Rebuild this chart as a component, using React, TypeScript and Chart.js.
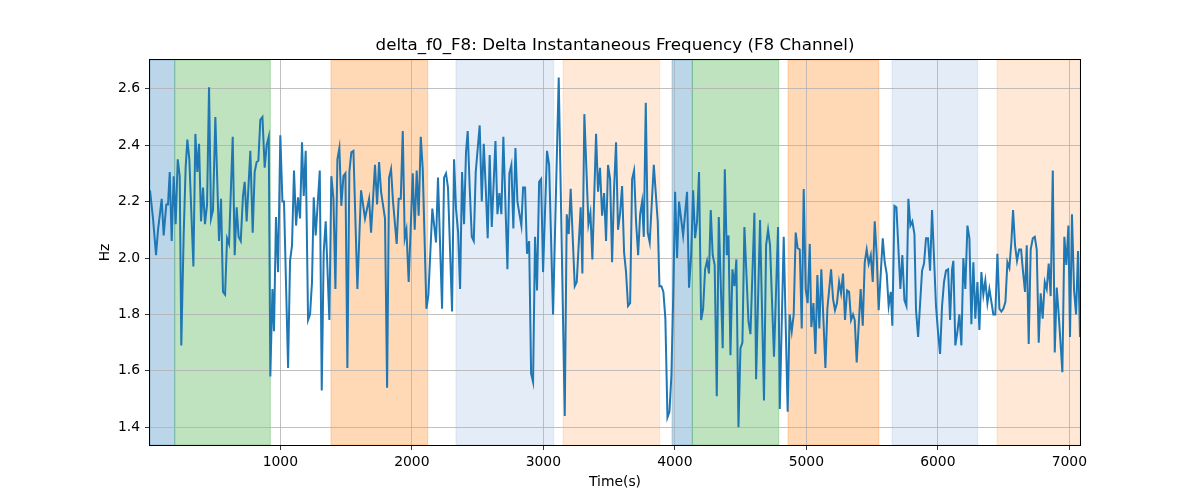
import React, { useEffect, useRef } from "react";
import { Chart, registerables } from "chart.js";

Chart.register(...registerables);

const TITLE = "delta_f0_F8: Delta Instantaneous Frequency (F8 Channel)";
const X_LABEL = "Time(s)";
const Y_LABEL = "Hz";

const X_MIN = 9;
const X_MAX = 7081;
const Y_MIN = 1.337;
const Y_MAX = 2.702;

const X_TICKS = [1000, 2000, 3000, 4000, 5000, 6000, 7000];
const Y_TICKS = [1.4, 1.6, 1.8, 2.0, 2.2, 2.4, 2.6];

const TIME = [
  9, 32, 55, 70, 98, 113, 133, 146, 159, 174, 189, 204, 220, 235, 247, 265, 280, 293, 308, 339,
  354, 369, 382, 397, 412, 427, 443, 458, 473, 488, 506, 534, 549, 564, 580, 595, 610, 638, 653, 668,
  683, 699, 716, 729, 744, 772, 790, 805, 820, 833, 848, 864, 881, 896, 912, 924, 940, 952, 967, 983,
  1000, 1016, 1028, 1059, 1074, 1089, 1104, 1120, 1135,
  1150, 1165, 1178, 1193, 1211, 1226, 1241, 1254, 1269, 1300, 1315, 1330, 1345, 1373, 1388, 1404, 1419, 1434, 1449, 1464,
  1480, 1495, 1510, 1525, 1540, 1556, 1586, 1614, 1644, 1675, 1690, 1720, 1736, 1751, 1766, 1796, 1812, 1827, 1842, 1857,
  1885, 1900, 1916, 1931, 1946, 1959, 1976, 2007, 2022, 2037, 2052, 2068, 2083, 2111, 2126, 2156, 2184, 2199, 2230, 2245,
  2260, 2275, 2306,
  2321, 2336, 2352, 2367, 2382, 2397, 2412, 2425, 2440, 2456, 2471, 2486, 2516, 2532, 2547, 2562, 2577, 2592, 2608, 2636,
  2651, 2666, 2681, 2696, 2727, 2742, 2757, 2772, 2788, 2803, 2833, 2846, 2861, 2876, 2892, 2907, 2922, 2937, 2952, 2968,
  2983, 2998, 3028, 3044, 3074, 3117, 3163, 3178, 3193, 3208, 3239, 3254, 3284, 3297, 3312, 3343, 3358, 3373, 3401, 3416,
  3431, 3447,
  3462, 3477, 3492, 3508, 3523, 3538, 3553, 3568, 3584, 3599, 3614, 3629, 3644, 3660, 3675, 3690, 3705, 3721, 3736, 3751,
  3764, 3779, 3794, 3809, 3840, 3870, 3883, 3898, 3913, 3928, 3944, 3959, 3974, 3989, 4002, 4017, 4032, 4063, 4093, 4108,
  4124, 4139, 4154, 4169, 4184, 4200, 4215, 4230, 4245, 4260, 4273, 4288, 4303, 4319, 4334, 4364, 4380, 4395, 4408, 4423,
  4438, 4453, 4468, 4484, 4499, 4514, 4529, 4560, 4575, 4605,
  4618, 4648, 4678, 4694, 4709, 4724, 4754, 4785, 4798, 4828, 4858, 4873, 4889, 4904, 4919, 4934, 4950, 4965, 4980, 4995,
  5010, 5026, 5038, 5054, 5069, 5084, 5099, 5114, 5145, 5160, 5188, 5203, 5218, 5233, 5249, 5264, 5279, 5294, 5310, 5325,
  5340, 5355, 5368, 5383, 5413, 5429, 5444, 5459, 5474, 5490, 5505, 5520, 5535, 5550, 5581, 5596, 5611, 5626, 5642, 5654,
  5670, 5685, 5715, 5730, 5746, 5761, 5776, 5791, 5806, 5822, 5834,
  5850, 5880, 5895, 5910, 5925, 5941, 5956, 5986, 6001, 6017, 6032, 6047, 6062, 6078, 6093, 6108, 6118, 6133, 6149, 6164,
  6179, 6194, 6209, 6225, 6240, 6255, 6270, 6285, 6301, 6316, 6331, 6346, 6361, 6377, 6392, 6407, 6422, 6437, 6453, 6468,
  6483, 6498, 6514, 6529, 6544, 6559, 6572, 6587, 6602, 6618, 6633, 6648, 6663, 6676, 6691, 6706, 6722, 6737, 6752, 6767,
  6782, 6797, 6813, 6828, 6843, 6858, 6874, 6889, 6904, 6919, 6947, 6962, 6977, 6993, 7005, 7020, 7036, 7051, 7066, 7081,
];

const HZ = [
  2.24, 2.14, 2.01, 2.1, 2.21, 2.08, 2.19, 2.19, 2.305, 2.06, 2.29, 2.12, 2.35, 2.29, 1.69, 2.08, 2.32, 2.42, 2.35, 1.97,
  2.44, 2.305, 2.405, 2.13, 2.25, 2.12, 2.19, 2.605, 2.14, 2.17, 2.5, 2.06, 2.21, 1.88, 1.87, 2.07, 2.05, 2.43, 2.01, 2.18,
  2.075, 2.06, 2.22, 2.27, 2.13, 2.38, 2.09, 2.305, 2.34, 2.345, 2.49, 2.5, 2.32, 2.4, 2.43, 1.58, 1.89, 1.74, 2.145, 1.95,
  2.435, 2.2, 2.2, 1.61, 1.99, 2.045, 2.31, 2.115, 2.215,
  2.14, 2.41, 2.22, 2.38, 1.78, 1.8, 1.915, 2.215, 2.08, 2.31, 1.53, 2.02, 2.13, 1.78, 2.29, 2.21, 1.89, 2.35, 2.39, 2.185,
  2.29, 2.3, 1.61, 2.305, 2.375, 2.38, 1.89, 2.24, 2.14, 2.21, 2.09, 2.33, 2.19, 2.34, 2.235, 2.14, 1.54, 2.285, 2.315, 2.2,
  2.05, 2.21, 2.21, 2.45, 2.07, 2.1, 1.915, 2.3, 2.1, 2.31, 2.15, 2.43, 2.315, 1.82, 1.87, 2.175, 2.055, 2.285, 1.82, 2.285,
  2.3, 2.25, 1.81,
  2.35, 2.175, 2.09, 1.89, 2.305, 2.12, 2.375, 2.45, 2.25, 2.075, 2.06, 2.305, 2.47, 2.2, 2.405, 2.25, 2.07, 2.365, 2.11, 2.415,
  2.155, 2.23, 2.155, 2.43, 1.96, 2.3, 2.33, 2.105, 2.39, 2.2, 2.115, 2.25, 2.25, 2.015, 2.06, 1.59, 1.56, 2.075, 1.885, 2.27,
  2.28, 1.95, 2.38, 2.33, 1.8, 2.64, 1.44, 2.155, 2.085, 2.245, 1.9, 1.915, 2.18, 1.945, 2.51, 2.12, 2.16, 1.995, 2.44, 2.235,
  2.32, 2.15,
  2.23, 2.06, 2.33, 2.28, 1.985, 2.245, 2.41, 2.1, 2.16, 2.255, 2.02, 1.95, 1.83, 1.84, 2.28, 2.31, 2.13, 2.01, 2.155, 2.2,
  2.075, 2.55, 2.09, 2.055, 2.33, 2.13, 1.9, 1.9, 1.88, 1.785, 1.435, 1.455, 1.585, 1.89, 2.235, 2.0, 2.2, 2.08, 2.235, 1.895,
  2.01, 2.24, 2.07, 2.13, 2.305, 1.78, 1.82, 1.96, 1.99, 1.945, 2.17, 2.01, 1.975, 1.51, 2.145, 1.68, 2.315, 2.01, 2.08, 1.655,
  1.96, 1.9, 1.995, 1.4, 1.68, 1.7, 2.11, 1.775, 1.73, 2.16,
  1.57, 2.135, 1.495, 2.045, 2.1, 2.045, 1.65, 2.11, 1.465, 2.075, 1.455, 1.8, 1.74, 1.8, 2.09, 2.035, 2.03, 1.75, 2.245, 1.89,
  1.84, 2.05, 1.755, 1.84, 1.66, 1.94, 1.75, 1.96, 1.61, 1.82, 1.96, 1.855, 1.815, 1.84, 1.915, 1.875, 1.945, 1.78, 1.885, 1.88,
  1.78, 1.8, 1.78, 1.63, 1.89, 1.76, 1.985, 2.03, 1.98, 2.01, 1.915, 2.13, 2.01, 1.815, 2.07, 1.985, 1.945, 1.83, 1.88, 1.76,
  2.185, 2.18, 1.89, 2.01, 1.85, 1.83, 2.21, 2.115, 2.13, 2.085, 1.815,
  1.72, 1.955, 1.98, 2.07, 2.07, 1.955, 2.17, 1.83, 1.74, 1.66, 1.83, 1.915, 1.955, 1.96, 1.78, 1.96, 1.99, 1.69, 1.74, 1.8,
  1.69, 2.0, 1.89, 2.115, 2.07, 1.765, 1.985, 1.785, 1.915, 1.745, 1.95, 1.87, 1.92, 1.84, 1.89, 1.845, 1.8, 1.8, 2.015, 1.82,
  1.81, 1.82, 1.845, 1.985, 1.965, 2.055, 2.17, 2.045, 1.99, 2.03, 2.03, 1.95, 1.88, 2.045, 1.695, 2.03, 2.07, 2.075, 2.03, 1.7,
  1.875, 1.785, 1.915, 1.89, 1.98, 1.865, 2.31, 1.665, 1.895, 1.8, 1.595, 2.075, 1.975, 2.115, 1.72, 2.155, 1.885, 1.8, 2.025, 1.72,
];

// Shaded time segments
const BAND_START = [9, 197, 1385, 2336, 3150, 3979, 4133, 4861, 5652, 6450];
const BAND_END = [197, 924, 2121, 3079, 3885, 4133, 4790, 5551, 6303, 7081];
const BAND_KIND = ["blue", "green", "orange", "lightblue", "lightorange", "blue", "green", "orange", "lightblue", "lightorange"];

const BAND_COLORS: Record<string, string> = {
  blue: "rgba(31,119,180,0.3)",
  green: "rgba(44,160,44,0.3)",
  orange: "rgba(255,127,14,0.3)",
  lightblue: "rgba(120,160,215,0.2)",
  lightorange: "rgba(255,127,14,0.17)",
};

const FONT = "'DejaVu Sans', sans-serif";

const bandsPlugin = {
  id: "bands",
  beforeDraw(chart: any) {
    const { ctx, chartArea, scales } = chart;
    const xs = scales.x;
    ctx.save();
    ctx.beginPath();
    ctx.rect(chartArea.left, chartArea.top, chartArea.right - chartArea.left, chartArea.bottom - chartArea.top);
    ctx.clip();
    for (let i = 0; i < BAND_START.length; i++) {
      const x0 = xs.getPixelForValue(BAND_START[i]);
      const x1 = xs.getPixelForValue(BAND_END[i]);
      const c = BAND_COLORS[BAND_KIND[i]];
      ctx.fillStyle = c;
      ctx.fillRect(x0, chartArea.top, x1 - x0, chartArea.bottom - chartArea.top);
      ctx.strokeStyle = c;
      ctx.lineWidth = 1;
      ctx.strokeRect(x0, chartArea.top, x1 - x0, chartArea.bottom - chartArea.top);
    }
    ctx.restore();
  },
};

const framePlugin = {
  id: "frame",
  afterDraw(chart: any) {
    const { ctx, chartArea } = chart;
    ctx.save();
    ctx.strokeStyle = "#000";
    ctx.lineWidth = 1;
    ctx.strokeRect(
      Math.round(chartArea.left) - 0.5,
      Math.round(chartArea.top) - 0.5,
      Math.round(chartArea.right - chartArea.left) + 1,
      Math.round(chartArea.bottom - chartArea.top) + 1
    );
    // Title centred over the plot area
    ctx.fillStyle = "#000";
    ctx.font = `16.7px ${FONT}`;
    ctx.textAlign = "center";
    ctx.textBaseline = "middle";
    ctx.fillText(TITLE, (chartArea.left + chartArea.right) / 2, chartArea.top - 14);
    ctx.restore();
  },
};

export default function App() {
  const ref = useRef<HTMLCanvasElement | null>(null);

  useEffect(() => {
    document.body.style.margin = "0";
    const canvas = ref.current;
    if (!canvas) return;
    const points = TIME.map((t, i) => ({ x: t, y: HZ[i] }));
    const chart = new Chart(canvas, {
      type: "line",
      data: {
        datasets: [
          {
            data: points,
            borderColor: "#1f77b4",
            borderWidth: 2,
            pointRadius: 0,
            tension: 0,
            fill: false,
          },
        ],
      },
      options: {
        animation: false,
        responsive: false,
        devicePixelRatio: 1,
        layout: { padding: { top: 60, right: 120, bottom: 0, left: 0 } },
        plugins: {
          legend: { display: false },
          tooltip: { enabled: false },
          title: { display: false },
        },
        scales: {
          x: {
            type: "linear",
            min: X_MIN,
            max: X_MAX,
            afterBuildTicks: (s: any) => {
              s.ticks = X_TICKS.map((v) => ({ value: v }));
            },
            afterFit: (s: any) => {
              s.height = 55;
            },
            ticks: {
              color: "#000",
              font: { family: FONT, size: 13.9 },
              padding: 4,
              maxRotation: 0,
              autoSkip: false,
              callback: (v: any) => String(v),
            },
            grid: {
              color: "#b0b0b0",
              lineWidth: 0.8,
              tickColor: "#000",
              tickLength: 5,
            },
            border: { display: false },
            title: {
              display: true,
              text: X_LABEL,
              color: "#000",
              font: { family: FONT, size: 13.9 },
              padding: { top: 0, bottom: 9 },
            },
          },
          y: {
            type: "linear",
            min: Y_MIN,
            max: Y_MAX,
            afterBuildTicks: (s: any) => {
              s.ticks = Y_TICKS.map((v) => ({ value: v }));
            },
            afterFit: (s: any) => {
              s.width = 150;
            },
            ticks: {
              color: "#000",
              font: { family: FONT, size: 13.9 },
              padding: 5,
              autoSkip: false,
              callback: (v: any) => Number(v).toFixed(1),
            },
            grid: {
              color: "#b0b0b0",
              lineWidth: 0.8,
              tickColor: "#000",
              tickLength: 5,
            },
            border: { display: false },
            title: {
              display: true,
              text: Y_LABEL,
              color: "#000",
              font: { family: FONT, size: 13.9 },
              padding: { top: 97, bottom: 0 },
            },
          },
        },
      },
      plugins: [bandsPlugin, framePlugin],
    });
    return () => chart.destroy();
  }, []);

  return (
    <div style={{ position: "absolute", left: 0, top: 0, width: 1200, height: 500, background: "#fff" }}>
      <canvas ref={ref} width={1200} height={500} style={{ width: 1200, height: 500 }} />
    </div>
  );
}
